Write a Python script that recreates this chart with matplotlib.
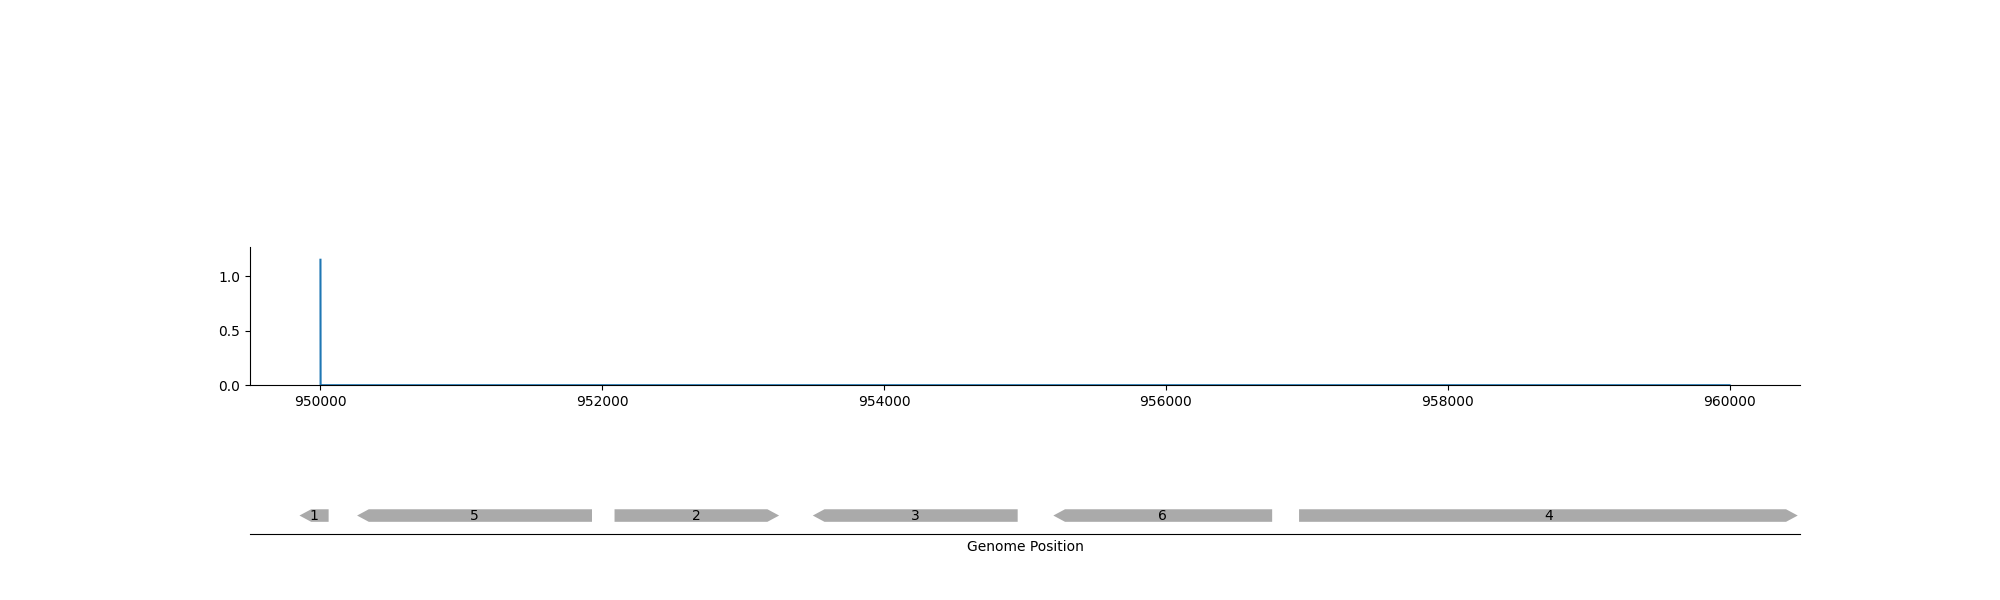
import numpy as np
import matplotlib
matplotlib.use('Agg')
from matplotlib import pyplot as plt
from matplotlib.patches import Polygon

# coverage track
pos = [950000, 950001, 960000]
cov = [1.15, 0.0, 0.0]

# gene features (start, end, strand, label)
starts = [949851, 950260, 952087, 953494, 955201, 956945]
ends = [950058, 951927, 953255, 954948, 956754, 960484]
strands = [-1, -1, 1, -1, -1, 1]
labels = ['1', '5', '2', '3', '6', '4']

fig = plt.figure(figsize=(20, 6), dpi=100)
ax1 = fig.add_axes([0.125, 0.358, 0.775, 0.23])
ax2 = fig.add_axes([0.125, 0.11, 0.775, 0.2])

ax1.plot(pos, cov, color='tab:blue', lw=1.5)
ax1.set_xlim(949500, 960500)
ax1.set_ylim(0, max(cov) * 1.1)
ax1.set_yticks([0.0, 0.5, 1.0])
ax1.ticklabel_format(axis='x', useOffset=False, style='plain')
ax1.spines['top'].set_visible(False)
ax1.spines['right'].set_visible(False)

# feature track
ax2.set_xlim(949500, 960500)
ax2.set_ylim(-1, 5.5)
half = 0.34
head = 83
for s, e, st, lab in zip(starts, ends, strands, labels):
    if st == 1:
        pts = [(s, -half), (e - head, -half), (e, 0), (e - head, half), (s, half)]
    else:
        pts = [(e, -half), (s + head, -half), (s, 0), (s + head, half), (e, half)]
    ax2.add_patch(Polygon(pts, closed=True, facecolor='#aaaaaa', edgecolor='none'))
    ax2.text((s + e) / 2, 0, lab, ha='center', va='center', fontsize=10)

for sp in ['top', 'right', 'left']:
    ax2.spines[sp].set_visible(False)
ax2.set_yticks([])
ax2.set_xticks([])
ax2.set_xlabel('Genome Position')

fig.savefig('out.png', dpi=100)
